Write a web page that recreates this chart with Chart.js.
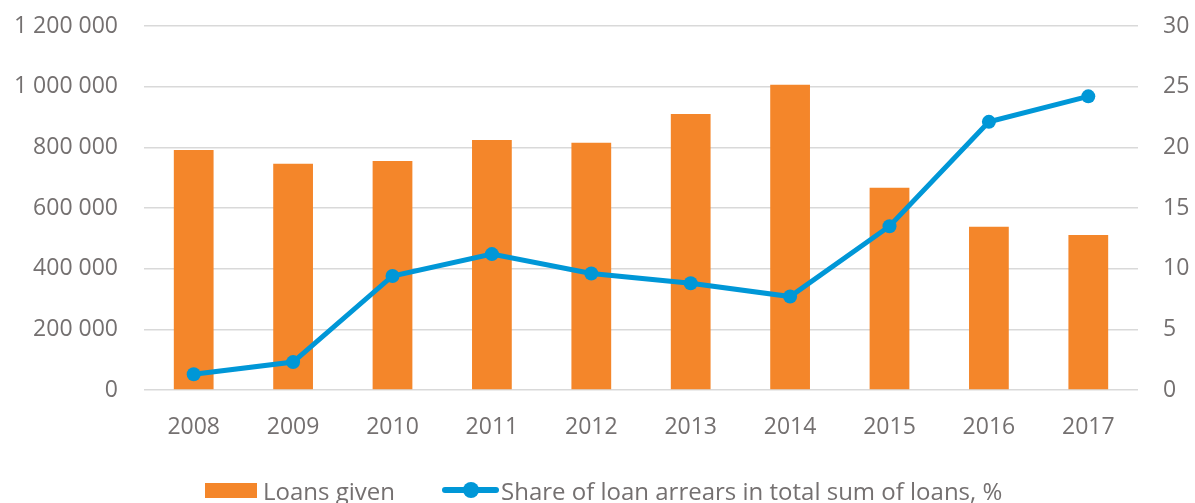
<!DOCTYPE html>
<html>
<head>
<meta charset="utf-8">
<script src="https://cdn.jsdelivr.net/npm/chart.js@4/dist/chart.umd.min.js"></script>
<style>
  html, body { margin: 0; padding: 0; background: #fff; }
  #wrap { position: relative; width: 1195px; height: 503px; }
  #legend { position: absolute; left: 0; top: 474px; width: 1195px; height: 32px;
            font-family: "Open Sans", sans-serif; font-size: 24px; color: #747070; }
  .item { position: absolute; top: 0; display: flex; align-items: center; height: 32px; white-space: nowrap; }
  .box { width: 52px; height: 15px; background: #f4862a; margin-right: 6px; }
  .sym { position: relative; width: 57px; height: 16px; margin-right: 2px; }
  .sym .ln { position: absolute; left: 0; right: 0; top: 5px; height: 6px; background: #0097d7; border-radius: 3px; }
  .sym .dot { position: absolute; left: 21px; top: 0; width: 16px; height: 16px; border-radius: 50%; background: #0097d7; }
</style>
</head>
<body>
<div id="wrap">
  <canvas id="c" width="1195" height="503"></canvas>
  <div id="legend">
    <div class="item" style="left:205px"><div class="box"></div>Loans given</div>
    <div class="item" style="left:442px"><div class="sym"><div class="ln"></div><div class="dot"></div></div>Share of loan arrears in total sum of loans, %</div>
  </div>
</div>
<script>
// данные
const years = ['2008', '2009', '2010', '2011', '2012', '2013', '2014', '2015', '2016', '2017'];
const loansGiven = [791000, 746000, 755000, 824000, 815000, 910000, 1006000, 667000, 538000, 511000];
const arrearsShare = [1.3, 2.3, 9.4, 11.2, 9.6, 8.8, 7.7, 13.5, 22.1, 24.2];

const tickColor = '#747070';
const font = { family: '"Open Sans", sans-serif', size: 23 };

function spaced(v) {
    return String(v).replace(/\B(?=(\d{3})+(?!\d))/g, ' ');
}

// фиксированная ширина оси, без авто-отступов сверху/снизу
function fixWidth(w) {
    return s => {
        s.width = w;
        s.paddingTop = 0;
        s.paddingBottom = 0;
    };
}

const ctx = document.getElementById('c').getContext('2d');
new Chart(ctx, {
    data: {
        labels: years,
        datasets: [
            {
                type: 'line',
                label: 'Share of loan arrears in total sum of loans, %',
                data: arrearsShare,
                yAxisID: 'y2',
                borderColor: '#0097d7',
                backgroundColor: '#0097d7',
                borderWidth: 5,
                pointRadius: 7,
                pointBorderWidth: 0,
                tension: 0,
                order: 0
            },
            {
                type: 'bar',
                label: 'Loans given',
                data: loansGiven,
                yAxisID: 'y',
                backgroundColor: '#f4862a',
                categoryPercentage: 0.8,
                barPercentage: 0.5,
                order: 1
            }
        ]
    },
    options: {
        responsive: false,
        animation: false,
        layout: { padding: { top: 26, bottom: 0, left: 0, right: 0 } },
        plugins: {
            legend: { display: false },
            tooltip: { enabled: false }
        },
        scales: {
            x: {
                grid: { display: false, drawTicks: false },
                border: { display: false },
                ticks: { color: tickColor, font: font, padding: 24, maxRotation: 0 },
                afterFit: s => { s.height = 113; }
            },
            y: {
                position: 'left',
                min: 0,
                max: 1200000,
                grid: { color: '#d9d9d9', lineWidth: 1.5, drawTicks: false },
                border: { display: false },
                ticks: { stepSize: 200000, color: tickColor, font: font, padding: 26, callback: v => spaced(v) },
                afterFit: fixWidth(144)
            },
            y2: {
                position: 'right',
                min: 0,
                max: 30,
                grid: { display: false, drawTicks: false },
                border: { display: false },
                ticks: { stepSize: 5, color: tickColor, font: font, padding: 25 },
                afterFit: fixWidth(57)
            }
        }
    }
});
</script>
</body>
</html>
